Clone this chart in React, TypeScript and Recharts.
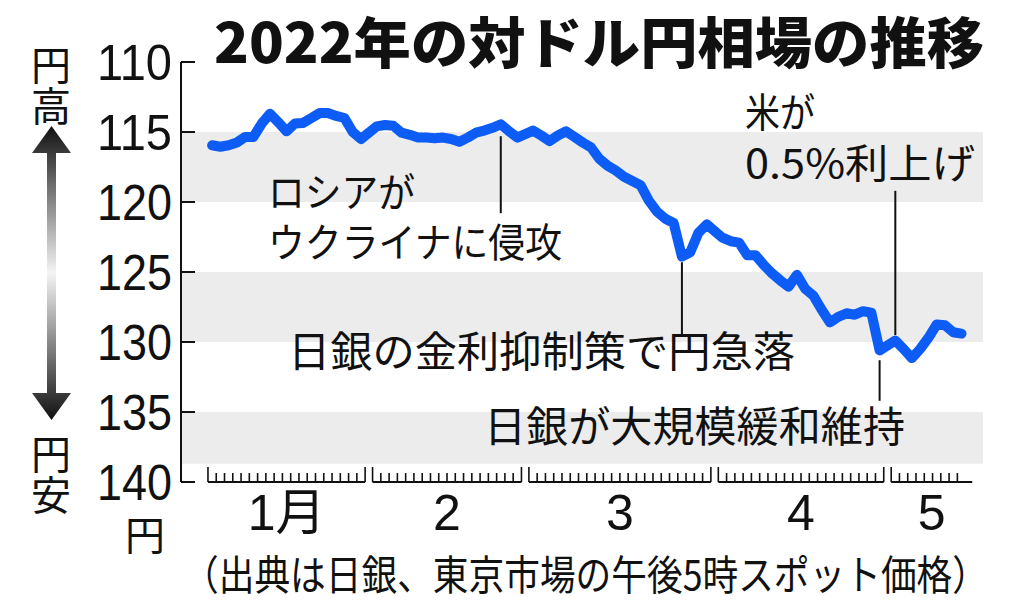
import React from 'react';
import { LineChart, Line, XAxis, YAxis, ReferenceArea, ReferenceLine } from 'recharts';

// ---- data (Tokyo 17:00 spot, yen per dollar), one value per trading day ----
const monthLabels = ['1月', '2', '3', '4', '5'];
const jan = [115.95, 116.05, 115.95, 115.75, 115.35, 115.35, 114.4, 113.7, 114.3, 114.95, 114.4, 114.35, 114.0, 113.65, 113.65, 113.85, 114.0, 115.0, 115.5];
const feb = [114.6, 114.5, 114.55, 115.05, 115.2, 115.4, 115.4, 115.45, 115.4, 115.5, 115.7, 115.4, 115.05, 114.9, 114.7, 114.45, 114.95, 115.4];
const mar = [114.9, 115.25, 115.65, 115.25, 114.95, 115.35, 115.75, 116.1, 116.9, 117.4, 117.75, 118.2, 118.5, 118.8, 119.9, 120.7, 121.2, 121.5, 123.9, 123.6, 122.2, 121.6];
const apr = [122.55, 122.8, 122.9, 123.8, 123.8, 124.5, 125.1, 125.6, 126.05, 125.2, 126.2, 126.7, 127.7, 128.6, 128.2, 127.95, 128.05, 127.8, 127.9, 130.6];
const may = [129.9, 130.5, 131.15, 130.5, 129.7, 128.75, 128.8, 129.3, 129.4];
const monthSeries = [jan, feb, mar, apr, may];

const yTicks = [110, 115, 120, 125, 130, 135, 140];
const bandRanges: [number, number][] = [[115, 120], [125, 130], [135, 138.7]];

// ruler: trading-day slots per month, end of ruler, whether closed by a tall tick
const rulerSlots = [19, 18, 22, 20, 8];
const rulerLength = [19, 18, 22, 20, 9.8];
const rulerClosed = [true, true, true, true, false];
const GAP = 0.9;

const monthStart: number[] = [];
{
  let s = 0;
  for (let m = 0; m < monthSeries.length; m++) {
    monthStart.push(s);
    s += rulerLength[m] + GAP;
  }
}

const data = monthSeries.flatMap((vals, m) => vals.map((v, i) => ({ x: monthStart[m] + i + 0.5, v })));

const rulerTicks: number[] = [];
const tallSet = new Set<string>();
monthStart.forEach((s, m) => {
  rulerTicks.push(s);
  tallSet.add(s.toFixed(3));
  for (let k = 1; k <= rulerSlots[m]; k++) {
    const t = s + k;
    rulerTicks.push(t);
    if (k === rulerSlots[m] && rulerClosed[m]) tallSet.add(t.toFixed(3));
  }
});
const monthCenters = monthStart.map((s, m) => s + rulerLength[m] / 2);

// annotation anchors: [month index, trading-day index in month, from, to]
const pointers: [number, number, number, number][] = [
  [1, 15, 115.3, 120.8],
  [2, 18, 124.3, 129.6],
  [3, 19, 131.3, 134.2],
  [4, 0, 119.2, 129.5],
];

const X_DOMAIN: [number, number] = [-3.26, 93.7];
const FONT_JP = '"Noto Sans CJK JP", "Noto Sans CJK SC", sans-serif';
const FONT_NUM = '"Liberation Sans", Arial, "Noto Sans CJK JP", sans-serif';

const YTick = (props: any) => {
  const { x, y, payload } = props;
  return (
    <g>
      <line x1={x} x2={x + 14} y1={y} y2={y} stroke="#111" strokeWidth={2} />
      <text x={x - 9} y={y + 18} textAnchor="end" fontSize={50} fontFamily={FONT_NUM} fill="#111"
        textLength={75} lengthAdjust="spacingAndGlyphs">{payload.value}</text>
    </g>
  );
};

const RulerTick = (props: any) => {
  const { x, y, payload } = props;
  const tall = tallSet.has(Number(payload.value).toFixed(3));
  return <line x1={x} x2={x} y1={y} y2={y - (tall ? 15 : 9)} stroke="#111" strokeWidth={1.6} />;
};

const MonthTick = (props: any) => {
  const { x, y, index } = props;
  return (
    <text x={x} y={y + 46} textAnchor="middle" fontSize={50} fontFamily={FONT_NUM} fill="#111">
      {monthLabels[index]}
    </text>
  );
};

export default function App() {
  return (
    <div style={{ position: 'absolute', left: 0, top: 0, width: 1024, height: 605, background: '#fff' }}>
      <LineChart width={1024} height={605} data={data} margin={{ top: 62, right: 41, bottom: 63, left: 0 }}>
        {bandRanges.map(([a, b], i) => (
          <ReferenceArea key={i} y1={a} y2={b} fill="#ececec" fillOpacity={1} stroke="none" />
        ))}
        <XAxis type="number" dataKey="x" domain={X_DOMAIN} allowDataOverflow ticks={rulerTicks}
          interval={0} height={2} axisLine={false} tickLine={false} tickSize={0} tickMargin={0} tick={<RulerTick />} />
        <XAxis xAxisId="month" type="number" dataKey="x" domain={X_DOMAIN} allowDataOverflow ticks={monthCenters}
          interval={0} height={58} axisLine={false} tickLine={false} tickSize={0} tickMargin={0} tick={<MonthTick />} />
        <YAxis type="number" domain={[110, 140]} reversed ticks={yTicks} interval={0} width={181}
          allowDataOverflow axisLine={{ stroke: '#111', strokeWidth: 2 }} tickLine={false} tickSize={0} tickMargin={0}
          tick={<YTick />} />
        {monthStart.map((s, m) => (
          <ReferenceLine key={'b' + m} segment={[{ x: s, y: 140 }, { x: s + rulerLength[m], y: 140 }]}
            stroke="#111" strokeWidth={2} />
        ))}
        {pointers.map(([m, i, a, b], k) => (
          <ReferenceLine key={'p' + k} segment={[{ x: monthStart[m] + i + 0.5, y: a }, { x: monthStart[m] + i + 0.5, y: b }]}
            stroke="#111" strokeWidth={2} />
        ))}
        <Line type="linear" dataKey="v" stroke="#0d5cf6" strokeWidth={10} dot={false} activeDot={false}
          strokeLinejoin="round" strokeLinecap="round" isAnimationActive={false} />
      </LineChart>
      <svg width={1024} height={605} style={{ position: 'absolute', left: 0, top: 0, pointerEvents: 'none' }}>
        <defs>
          <linearGradient id="arrowGrad" x1="0" y1="126" x2="0" y2="420" gradientUnits="userSpaceOnUse">
            <stop offset="0" stopColor="#111" />
            <stop offset="0.5" stopColor="#f4f4f4" />
            <stop offset="1" stopColor="#111" />
          </linearGradient>
        </defs>
        <text x={214} y={63} fontSize={55} fontWeight={900} fontFamily={FONT_JP} fill="#111"
          textLength={770} lengthAdjust="spacingAndGlyphs">2022年の対ドル円相場の推移</text>
        <text x={51} y={80} textAnchor="middle" fontSize={40} fontFamily={FONT_JP} fill="#111">円</text>
        <text x={51} y={121} textAnchor="middle" fontSize={40} fontFamily={FONT_JP} fill="#111">高</text>
        <path d="M51.5,126 L71,153 L56,153 L56,393 L71,393 L51.5,420 L32,393 L47,393 L47,153 L32,153 Z" fill="url(#arrowGrad)" />
        <text x={51} y={469} textAnchor="middle" fontSize={40} fontFamily={FONT_JP} fill="#111">円</text>
        <text x={51} y={510} textAnchor="middle" fontSize={40} fontFamily={FONT_JP} fill="#111">安</text>
        <text x={145} y={550} textAnchor="middle" fontSize={40} fontFamily={FONT_JP} fill="#111">円</text>
        <text x={268} y={207} fontSize={40} fontFamily={FONT_JP} fill="#111" textLength={147} lengthAdjust="spacingAndGlyphs">ロシアが</text>
        <text x={268} y={257} fontSize={40} fontFamily={FONT_JP} fill="#111" textLength={294} lengthAdjust="spacingAndGlyphs">ウクライナに侵攻</text>
        <text x={288} y={367} fontSize={42} fontFamily={FONT_JP} fill="#111" textLength={507} lengthAdjust="spacingAndGlyphs">日銀の金利抑制策で円急落</text>
        <text x={484} y={442} fontSize={42} fontFamily={FONT_JP} fill="#111" textLength={421} lengthAdjust="spacingAndGlyphs">日銀が大規模緩和維持</text>
        <text x={745} y={127} fontSize={40} fontFamily={FONT_JP} fill="#111" textLength={70} lengthAdjust="spacingAndGlyphs">米が</text>
        <text x={745} y={178} fontSize={40} fontFamily={FONT_JP} fill="#111" textLength={230} lengthAdjust="spacingAndGlyphs">0.5%利上げ</text>
        <text x={183} y={590} fontSize={41} fontFamily={FONT_JP} fill="#111" textLength={805} lengthAdjust="spacingAndGlyphs">（出典は日銀、東京市場の午後5時スポット価格）</text>
      </svg>
    </div>
  );
}
